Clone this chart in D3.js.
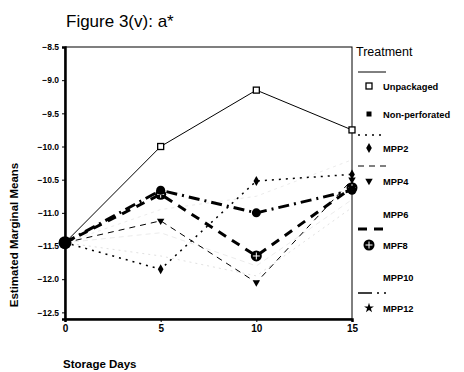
<!DOCTYPE html>
<html><head><meta charset="utf-8">
<script src="https://cdn.jsdelivr.net/npm/d3@7"></script>
<style>body{margin:0;background:#fff}svg{display:block}text{font-family:Arial,"Liberation Sans",sans-serif}</style>
</head><body><svg id="c" width="464" height="372"></svg>
<script>
const days = [0, 5, 10, 15];
const yTicks = [-8.5, -9.0, -9.5, -10.0, -10.5, -11.0, -11.5, -12.0, -12.5];
const seriesNames = ["Unpackaged","Non-perforated","MPP2","MPP4","MPP6","MPF8","MPP10","MPP12"];
const unpackaged   = [-11.45, -10.0, -9.15, -9.75];
const nonPerforated= [-11.45, -10.95, -10.75, -10.2];
const mpp2         = [-11.45, -11.85, -10.52, -10.42];
const mpp4         = [-11.45, -11.12, -12.05, -10.5];
const mpp6         = [-11.45, -11.65, -11.95, -10.92];
const mpp8         = [-11.45, -10.72, -11.65, -10.62];
const mpp10        = [-11.45, -11.3, -11.8, -10.8];
const mpp12        = [-11.45, -10.66, -11.0, -10.66];

const svg = d3.select("#c");
const x = d3.scaleLinear().domain([0,15]).range([65,352]);
const y = d3.scaleLinear().domain([-12.6,-8.5]).range([319,47]);

svg.append("text").attr("x",66).attr("y",27).attr("font-size",17).text("Figure 3(v): a*");

svg.append("rect").attr("x",65).attr("y",47).attr("width",287).attr("height",272)
  .attr("fill","none").attr("stroke","#000").attr("stroke-width",1);
const ya = svg.append("g").attr("transform","translate(65,0)")
  .call(d3.axisLeft(y).tickValues(yTicks).tickFormat(d3.format(".1f")).tickSize(3));
ya.select(".domain").attr("stroke-width",2.5);
ya.selectAll("text").attr("font-size",8.5).attr("font-weight","bold").attr("font-family","Arial");
const xa = svg.append("g").attr("transform","translate(0,319)")
  .call(d3.axisBottom(x).tickValues(days).tickFormat(d3.format("d")).tickSize(3));
xa.select(".domain").attr("stroke-width",2.5);
xa.selectAll("text").attr("font-size",10).attr("font-weight","bold").attr("font-family","Arial");

svg.append("text").attr("transform","translate(18,235) rotate(-90)").attr("text-anchor","middle")
  .attr("font-size",11.5).attr("font-weight","bold").text("Estimated Marginal Means");
svg.append("text").attr("x",63).attr("y",368).attr("font-size",11.5).attr("font-weight","bold").text("Storage Days");

const line = d3.line().x((d,i)=>x(days[i])).y(d=>y(d));
const styles = [
  {v:unpackaged, w:1, dash:null, col:"#000", m:"square"},
  {v:nonPerforated, w:0.8, dash:"3,4", col:"#e6e6e6", m:null},
  {v:mpp6, w:0.8, dash:"2,4", col:"#d8d8d8", m:null},
  {v:mpp10, w:0.8, dash:"5,4", col:"#e6e6e6", m:null},
  {v:mpp2, w:1.5, dash:"2,5", col:"#000", m:"diamond"},
  {v:mpp4, w:1, dash:"6,5", col:"#000", m:"tri"},
  {v:mpp8, w:3, dash:"9,7", col:"#000", m:"cross"},
  {v:mpp12, w:3, dash:"11,5,2,5", col:"#000", m:"circle"}
];
styles.forEach(s=>{
  svg.append("path").attr("d",line(s.v)).attr("fill","none").attr("stroke",s.col)
    .attr("stroke-width",s.w).attr("stroke-dasharray",s.dash);
});
function marker(g,type,cx,cy){
  if(type==="square") g.append("rect").attr("x",cx-3).attr("y",cy-3).attr("width",6).attr("height",6).attr("fill","#fff").attr("stroke","#000").attr("stroke-width",1.3);
  if(type==="diamond") g.append("path").attr("d",d3.symbol(d3.symbolDiamond,28)()).attr("transform",`translate(${cx},${cy})`).attr("fill","#000");
  if(type==="tri") g.append("path").attr("d",d3.symbol(d3.symbolTriangle,24)()).attr("transform",`translate(${cx},${cy}) rotate(180)`).attr("fill","#000");
  if(type==="cross"){ g.append("circle").attr("cx",cx).attr("cy",cy).attr("r",5.5).attr("fill","#000");
    g.append("path").attr("d",`M${cx-3.5},${cy}H${cx+3.5}M${cx},${cy-3.5}V${cy+3.5}`).attr("stroke","#fff").attr("stroke-width",1);}
  if(type==="circle") g.append("circle").attr("cx",cx).attr("cy",cy).attr("r",4.5).attr("fill","#000");
  if(type==="star") g.append("path").attr("d",d3.symbol(d3.symbolStar,30)()).attr("transform",`translate(${cx},${cy})`).attr("fill","#000");
  if(type==="fsq") g.append("rect").attr("x",cx-2.5).attr("y",cy-2.5).attr("width",5).attr("height",5).attr("fill","#000");
}
const mg = svg.append("g");
styles.forEach(s=>{ if(s.m) s.v.forEach((v,i)=>marker(mg,s.m,x(days[i]),y(v))); });
mg.append("circle").attr("cx",x(0)).attr("cy",y(-11.45)).attr("r",6.5).attr("fill","#000");

svg.append("text").attr("x",356).attr("y",56).attr("font-size",12.5).text("Treatment");
const legY = [89, 117, 151, 184, 217, 248, 280, 311];
const legMarkers = ["square","fsq","diamond","tri",null,"cross",null,"star"];
const legLines = [{y:72,w:1,dash:null},{y:135,w:1.5,dash:"2,5"},{y:166,w:1,dash:"6,5"},{y:229,w:3,dash:"9,7"},{y:293,w:1.5,dash:"14,5,2,5"}];
legLines.forEach(l=>svg.append("line").attr("x1",358).attr("x2",386).attr("y1",l.y).attr("y2",l.y)
  .attr("stroke","#000").attr("stroke-width",l.w).attr("stroke-dasharray",l.dash));
const lg = svg.append("g");
seriesNames.forEach((n,i)=>{
  if(legMarkers[i]) marker(lg,legMarkers[i],369,legY[i]-3);
  lg.append("text").attr("x",383).attr("y",legY[i]+1).attr("font-size",9.3).attr("font-weight","bold").text(n);
});
</script></body></html>
